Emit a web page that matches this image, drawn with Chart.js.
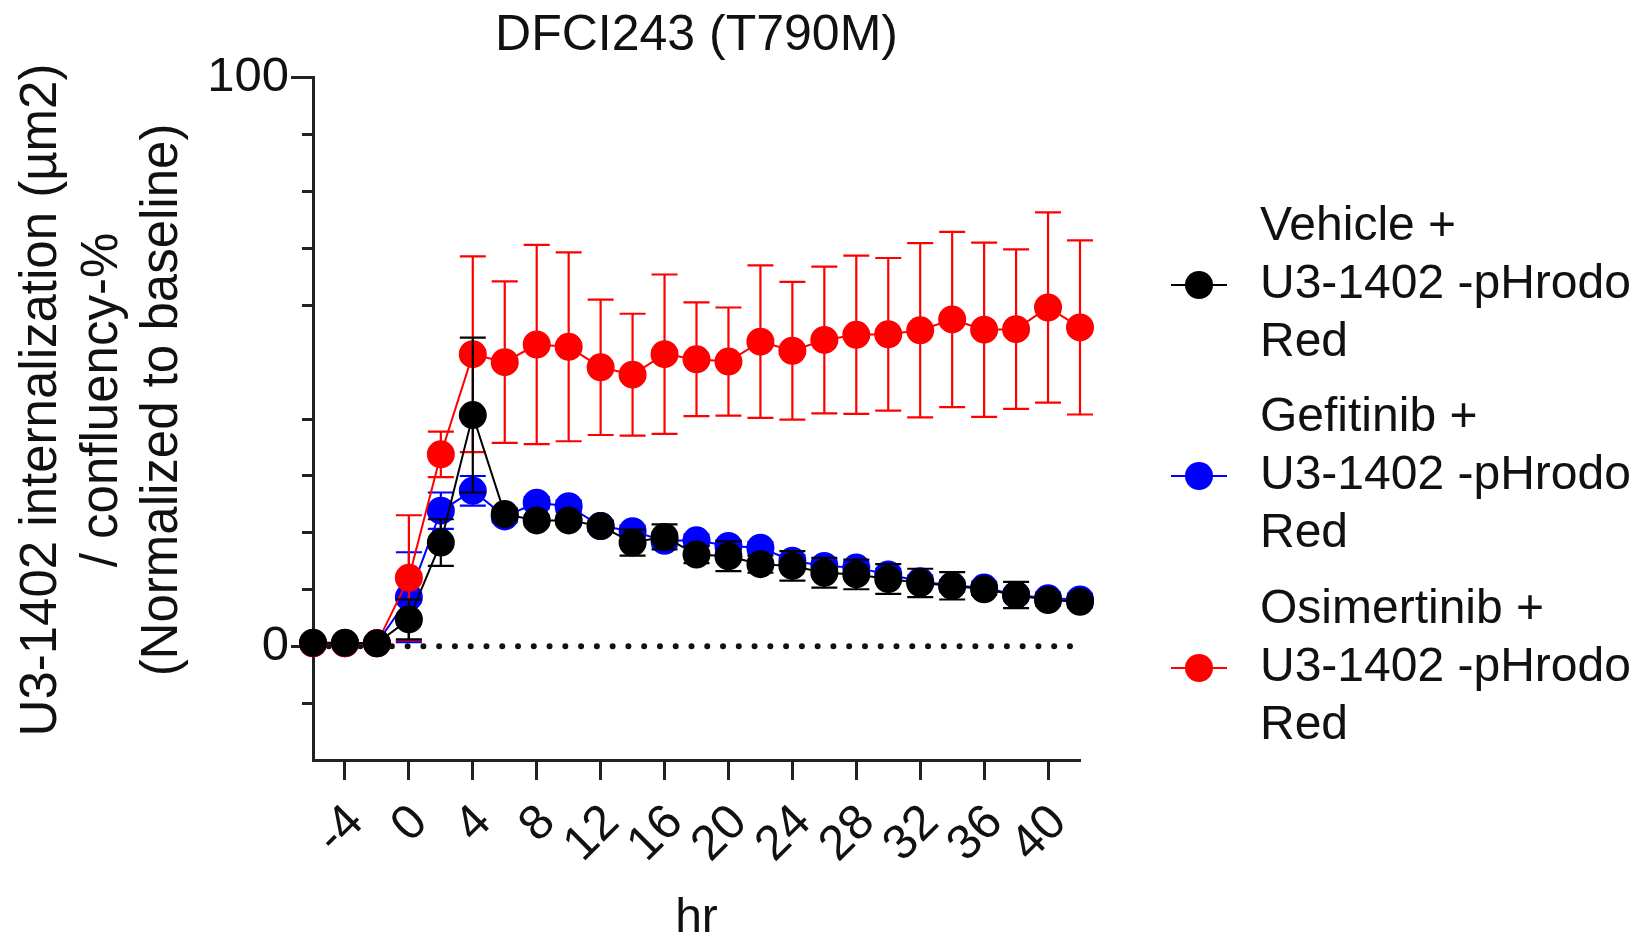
<!DOCTYPE html>
<html lang="en">
<head>
<meta charset="UTF-8">
<title>DFCI243 (T790M)</title>
<script src="https://cdn.jsdelivr.net/npm/chart.js@4"></script>
<style>
    html, body { margin: 0; padding: 0; background: #fff; }
    #chart { display: block; }
</style>
</head>
<body>
<canvas id="chart" width="1647" height="936"></canvas>
<script>
// time points (hr)
const hours = [-6, -4, -2, 0, 2, 4, 6, 8, 10, 12, 14, 16, 18, 20, 22, 24, 26, 28, 30, 32, 34, 36, 38, 40, 42];

// Vehicle + U3-1402-pHrodo Red
const vehicleMean = [0.6, 0.6, 0.5, 4.7, 18.2, 40.6, 23.2, 22.1, 22.1, 21.1, 18.2, 19.2, 16.1, 15.8, 14.4, 14.1, 12.9, 12.6, 11.8, 11.1, 10.6, 10.0, 9.0, 8.1, 7.8];
const vehicleSem  = [0, 0, 0, 3.5, 4.1, 13.6, 1.0, 0.8, 0.8, 0.8, 2.3, 2.2, 1.5, 2.6, 1.5, 2.6, 2.6, 2.6, 2.6, 2.5, 2.4, 1.0, 2.3, 1.0, 1.0];

// Gefitinib + U3-1402-pHrodo Red
const gefitinibMean = [0.5, 0.5, 0.5, 8.6, 23.8, 27.3, 22.8, 25.2, 24.6, 21.1, 20.2, 18.5, 18.6, 17.6, 17.3, 15.0, 14.1, 13.8, 12.6, 11.4, 10.6, 10.3, 9.0, 8.4, 8.2];
const gefitinibSem  = [0, 0, 0, 7.9, 3.2, 2.6, 1, 1, 1, 1, 1, 1, 1, 1, 1, 1, 1, 1, 1, 1, 1, 1, 1, 1, 1];

// Osimertinib + U3-1402-pHrodo Red
const osimertinibMean = [0.5, 0.5, 0.5, 12.0, 33.7, 51.3, 49.9, 53.0, 52.6, 49.0, 47.7, 51.3, 50.4, 50.0, 53.5, 51.9, 53.8, 54.7, 54.8, 55.5, 57.4, 55.6, 55.7, 59.5, 56.0];
const osimertinibSem  = [0, 0, 0, 11.0, 4.0, 17.2, 14.2, 17.5, 16.6, 11.9, 10.7, 14.0, 10.0, 9.5, 13.4, 12.1, 12.9, 13.9, 13.4, 15.3, 15.4, 15.3, 14.0, 16.7, 15.3];

const xTicks = [-4, 0, 4, 8, 12, 16, 20, 24, 28, 32, 36, 40];
const yTicks = [-20, -10, 0, 10, 20, 30, 40, 50, 60, 70, 80, 90, 100];
const yLabelled = [0, 50, 100];

const chartTitle = 'DFCI243 (T790M)';
const xTitle = 'hr';
const yTitle = ['U3-1402 internalization (µm2)', '/ confluency-%', '(Normalized to baseline)'];
const legendLabels = [
    ['Vehicle +', 'U3-1402 -pHrodo', 'Red'],
    ['Gefitinib +', 'U3-1402 -pHrodo', 'Red'],
    ['Osimertinib +', 'U3-1402 -pHrodo', 'Red']
];

const FONT = "'Liberation Sans', Arial, sans-serif";
const INK = '#111';

Chart.defaults.font.family = FONT;
Chart.defaults.color = INK;

const toPoints = vals => hours.map((h, i) => ({ x: h, y: vals[i] }));

const series = (label, vals, errs, color, order) => ({
    label: label,
    data: toPoints(vals),
    errors: errs,
    borderColor: color,
    backgroundColor: color,
    pointBackgroundColor: color,
    pointBorderColor: color,
    borderWidth: 2,
    pointRadius: 13,
    pointBorderWidth: 2,
    pointHoverRadius: 13,
    tension: 0,
    clip: false,
    order: order
});

// dotted line at y = 0, minor y ticks, error bars, y title, legend
const extras = {
    id: 'extras',
    beforeDatasetsDraw(chart) {
        const { ctx, scales: { x, y }, chartArea } = chart;
        ctx.save();
        ctx.strokeStyle = INK;
        ctx.lineWidth = 6;
        ctx.lineCap = 'round';
        ctx.setLineDash([0, 15.77]);
        ctx.beginPath();
        ctx.moveTo(x.getPixelForValue(-6), y.getPixelForValue(0));
        ctx.lineTo(x.getPixelForValue(42), y.getPixelForValue(0));
        ctx.stroke();
        ctx.setLineDash([]);
        ctx.lineCap = 'butt';
        // minor ticks
        ctx.strokeStyle = '#222';
        ctx.lineWidth = 3;
        yTicks.forEach(v => {
            if (yLabelled.includes(v) || v === y.min) return;
            const py = Math.round(y.getPixelForValue(v)) + 0.5;
            ctx.beginPath();
            ctx.moveTo(chartArea.left - 11, py);
            ctx.lineTo(chartArea.left, py);
            ctx.stroke();
        });
        // y axis title, three lines
        ctx.fillStyle = INK;
        ctx.font = '51px ' + FONT;
        ctx.textAlign = 'center';
        ctx.textBaseline = 'middle';
        yTitle.forEach((t, k) => {
            ctx.save();
            ctx.translate(42 + k * 60.5, 400);
            ctx.rotate(-Math.PI / 2);
            ctx.fillText(t, 0, 0);
            ctx.restore();
        });
        ctx.restore();
    },
    beforeDatasetDraw(chart, args) {
        const ds = chart.data.datasets[args.index];
        const { ctx, scales: { x, y } } = chart;
        ctx.save();
        ctx.strokeStyle = ds.borderColor;
        ctx.lineWidth = 2.2;
        ds.data.forEach((p, i) => {
            const e = ds.errors[i];
            if (!e) return;
            const px = x.getPixelForValue(p.x);
            const top = y.getPixelForValue(p.y + e);
            const bot = y.getPixelForValue(p.y - e);
            ctx.beginPath();
            ctx.moveTo(px, top);
            ctx.lineTo(px, bot);
            ctx.moveTo(px - 13, top);
            ctx.lineTo(px + 13, top);
            ctx.moveTo(px - 13, bot);
            ctx.lineTo(px + 13, bot);
            ctx.stroke();
        });
        ctx.restore();
    },
    afterDraw(chart) {
        const { ctx } = chart;
        const mids = [285, 476, 668];
        ctx.save();
        chart.data.datasets.forEach((ds, i) => {
            const my = mids[i];
            ctx.strokeStyle = ds.borderColor;
            ctx.fillStyle = ds.borderColor;
            ctx.lineWidth = 2;
            ctx.beginPath();
            ctx.moveTo(1171, my);
            ctx.lineTo(1227, my);
            ctx.stroke();
            ctx.beginPath();
            ctx.arc(1199, my, 14, 0, Math.PI * 2);
            ctx.fill();
            ctx.fillStyle = INK;
            ctx.font = '48px ' + FONT;
            ctx.textAlign = 'left';
            ctx.textBaseline = 'middle';
            legendLabels[i].forEach((t, k) => {
                ctx.fillText(t, 1260, my + (k - 1) * 58);
            });
        });
        ctx.restore();
    }
};

new Chart(document.getElementById('chart'), {
    type: 'line',
    data: {
        datasets: [
            series(legendLabels[0].join(' '), vehicleMean, vehicleSem, '#000000', 0),
            series(legendLabels[1].join(' '), gefitinibMean, gefitinibSem, '#0000ff', 2),
            series(legendLabels[2].join(' '), osimertinibMean, osimertinibSem, '#ff0000', 1)
        ]
    },
    options: {
        responsive: false,
        animation: false,
        events: [],
        layout: { padding: { right: 567 } },
        plugins: {
            legend: { display: false },
            tooltip: { enabled: false },
            title: {
                display: true,
                text: chartTitle,
                fullSize: false,
                color: INK,
                font: { size: 50, weight: 'normal', lineHeight: 1.2 },
                padding: { top: 6, bottom: 11 }
            }
        },
        scales: {
            x: {
                type: 'linear',
                min: -6,
                max: 42,
                afterBuildTicks: s => { s.ticks = xTicks.map(v => ({ value: v })); },
                afterFit: s => { s.height = 176; },
                grid: { drawOnChartArea: false, tickLength: 20, tickWidth: 3, tickColor: '#222' },
                border: { display: true, color: '#222', width: 3 },
                ticks: {
                    autoSkip: false,
                    minRotation: 45,
                    maxRotation: 45,
                    padding: 14,
                    labelOffset: 11,
                    color: INK,
                    font: { size: 49 }
                },
                title: {
                    display: true,
                    text: xTitle,
                    color: INK,
                    font: { size: 48, lineHeight: 0.7 },
                    padding: 0
                }
            },
            y: {
                type: 'linear',
                min: -20,
                max: 100,
                afterBuildTicks: s => { s.ticks = yTicks.map(v => ({ value: v })); },
                afterFit: s => { s.width = 313; },
                grid: {
                    drawOnChartArea: false,
                    tickLength: 22,
                    tickWidth: 3,
                    tickColor: c => yLabelled.includes(c.tick.value) ? '#222' : 'rgba(0,0,0,0)'
                },
                border: { display: true, color: '#222', width: 3 },
                ticks: {
                    padding: 2,
                    color: INK,
                    font: { size: 49 },
                    callback: v => yLabelled.includes(v) ? String(v) : ''
                },
                title: { display: false }
            }
        }
    },
    plugins: [extras]
});
</script>
</body>
</html>
